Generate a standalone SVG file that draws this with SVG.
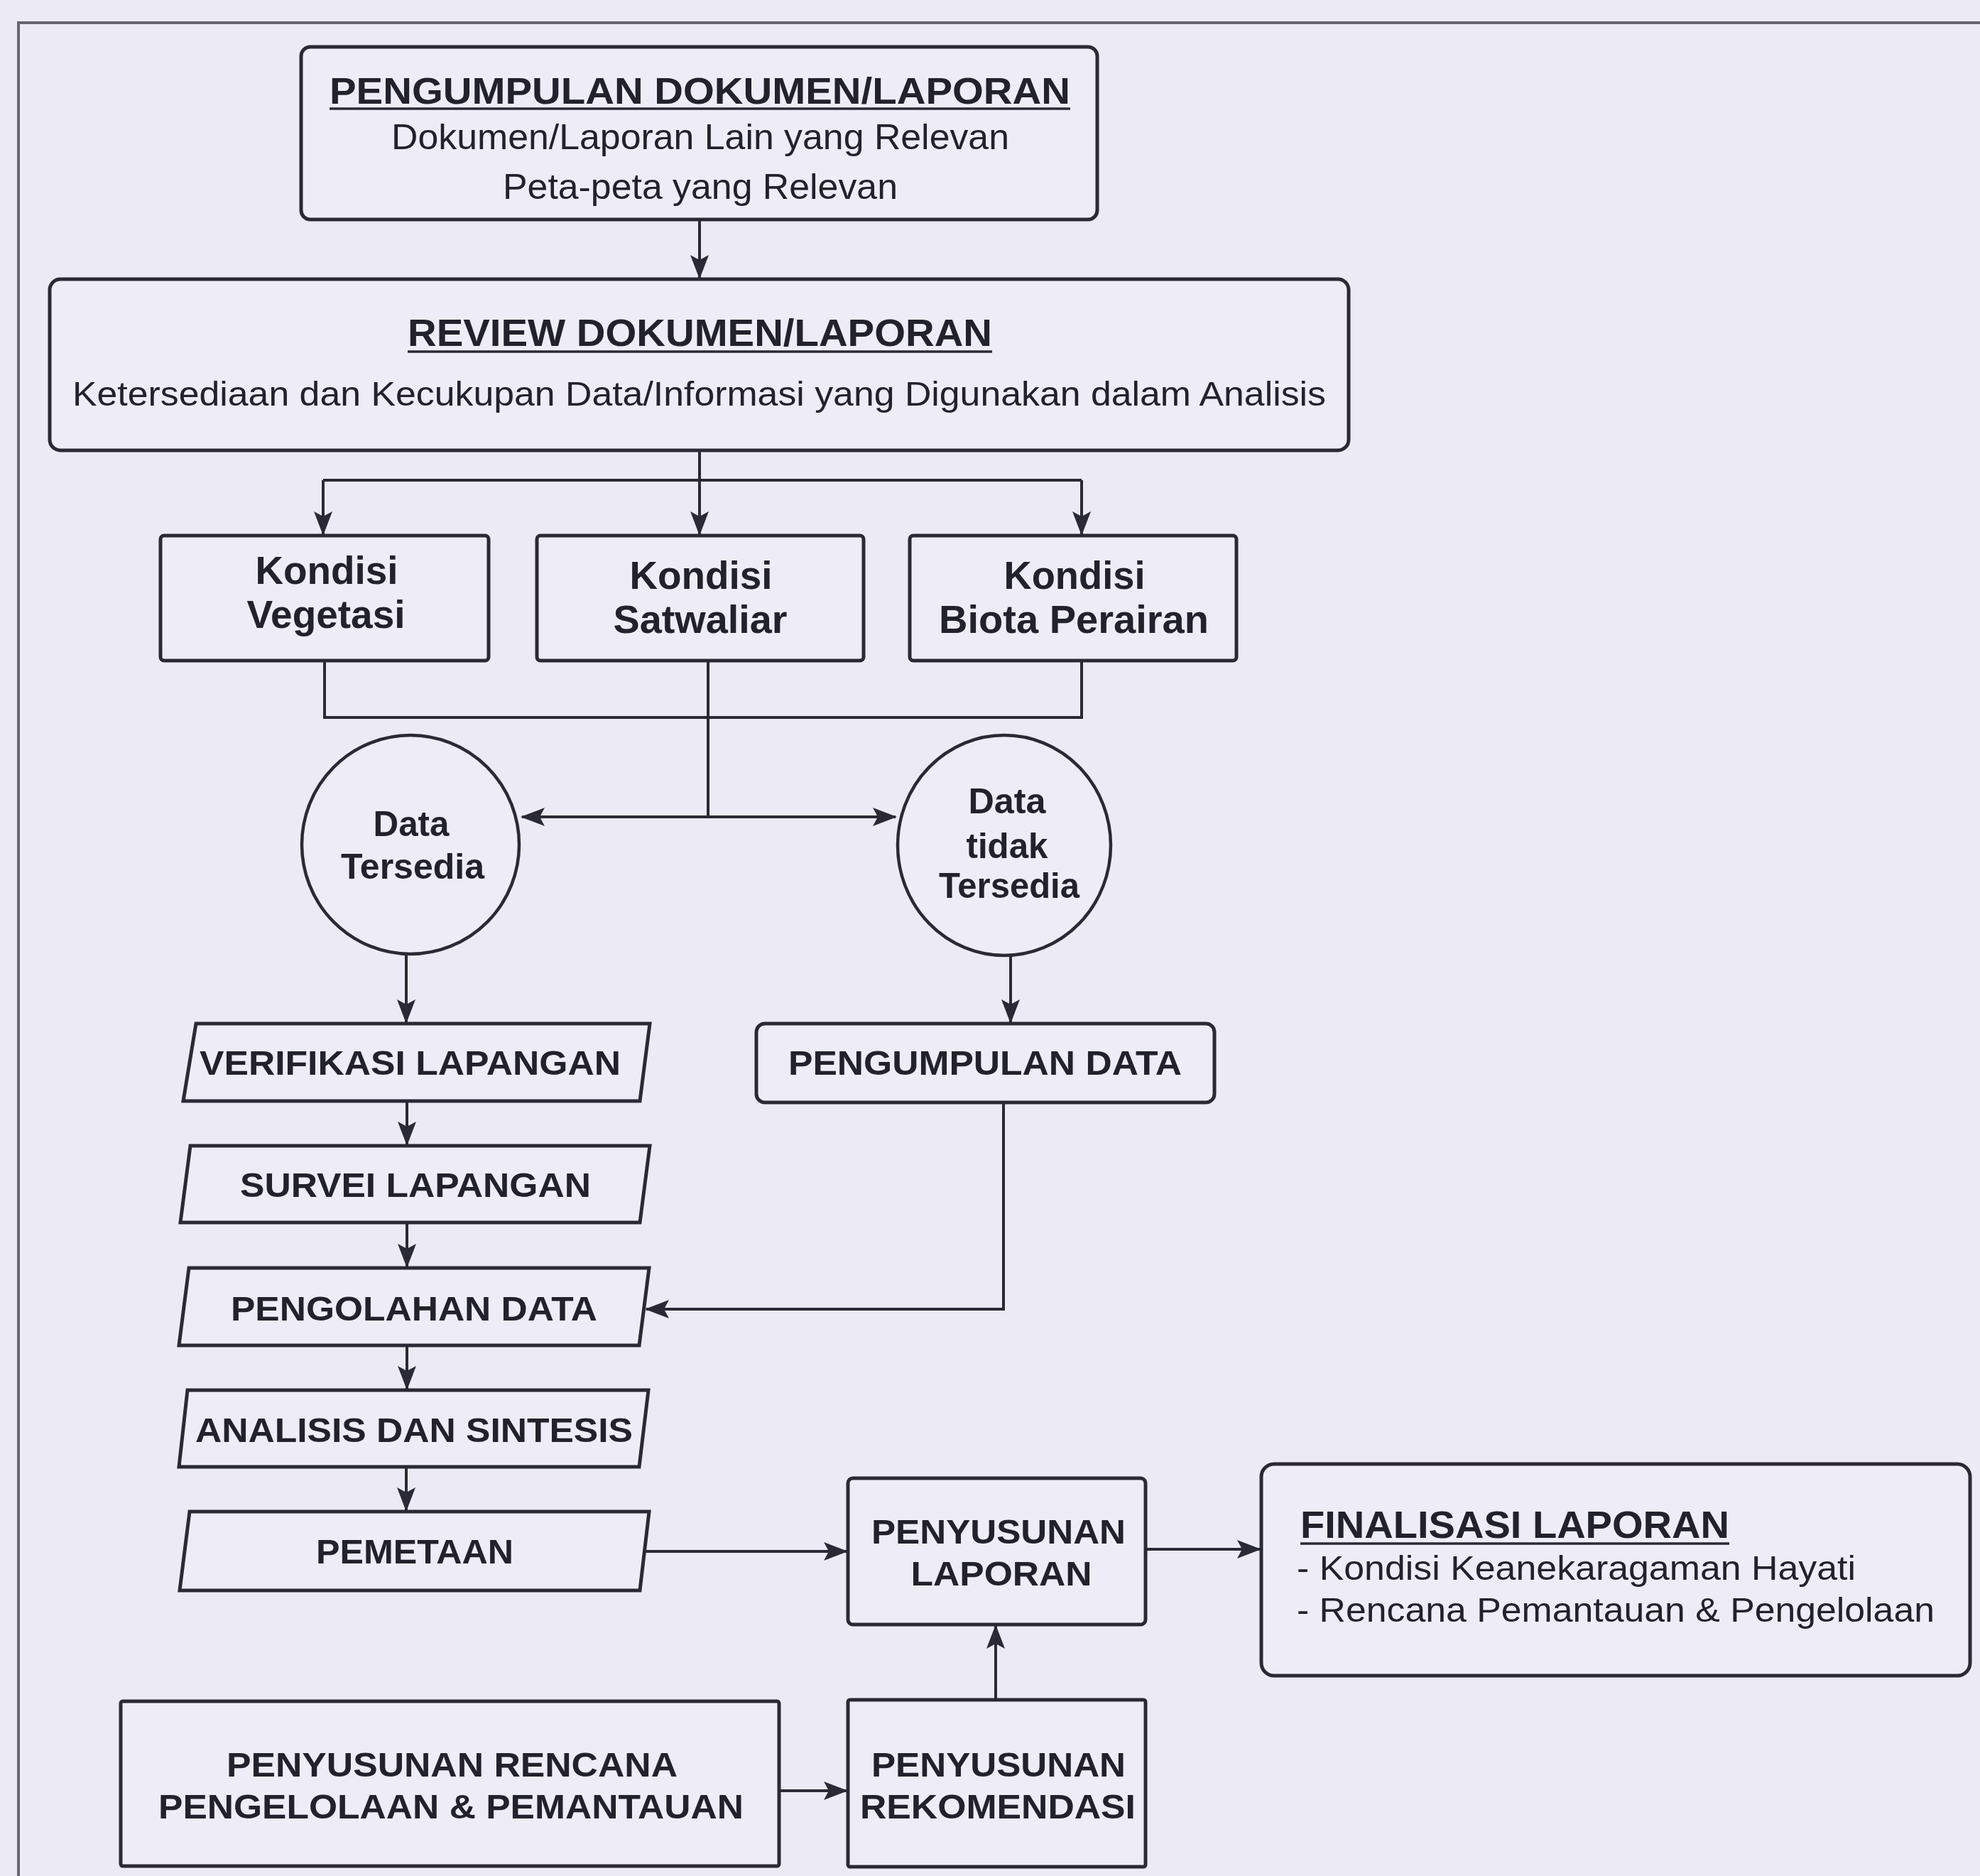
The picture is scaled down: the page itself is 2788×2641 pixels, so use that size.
<svg xmlns="http://www.w3.org/2000/svg" width="2788" height="2641" viewBox="0 0 2788 2641">
<defs>
<style>
.bg{fill:#ECEBF5}
.frame{fill:none;stroke:#66666e;stroke-width:4}
.box{fill:#EEEDF7;stroke:#2a2a36;stroke-width:5}
.ln{fill:none;stroke:#2a2a36;stroke-width:4}
.arr{fill:none;stroke:#2a2a36;stroke-width:4;marker-end:url(#ah)}
.ul{stroke:#2a2a36;stroke-width:3.5}
.t{font-family:"Liberation Sans",Arial,sans-serif;fill:#22222c;text-anchor:middle}
.b{font-weight:bold}
.l{text-anchor:start}
</style>
<marker id="ah" markerUnits="userSpaceOnUse" markerWidth="34" markerHeight="26" viewBox="0 0 34 26" refX="32" refY="13" orient="auto">
<path d="M0,0 L34,13 L0,26 L7,13 Z" fill="#2a2a36"/>
</marker>
</defs>
<rect class="bg" x="0" y="0" width="2788" height="2641"/>
<rect class="frame" x="26" y="32" width="2900" height="2800"/>

<g id="connectors">
<path class="arr" d="M985,310 L985,391"/>
<path class="ln" d="M985,636 L985,676 M455,676 L1523,676"/>
<path class="arr" d="M455,676 L455,752"/>
<path class="arr" d="M985,676 L985,752"/>
<path class="arr" d="M1523,676 L1523,752"/>
<path class="ln" d="M457,932 L457,1010 L1523,1010 L1523,932 M997,932 L997,1150"/>
<path class="arr" d="M997,1150 L735,1150"/>
<path class="arr" d="M997,1150 L1261,1150"/>
<path class="arr" d="M572,1343 L572,1439"/>
<path class="arr" d="M1423,1345 L1423,1439"/>
<path class="arr" d="M573,1552 L573,1611"/>
<path class="arr" d="M573,1723 L573,1783"/>
<path class="arr" d="M573,1896 L573,1955"/>
<path class="arr" d="M572,2067 L572,2126"/>
<path class="arr" d="M1413,1554 L1413,1843 L910,1843"/>
<path class="arr" d="M908,2184 L1192,2184"/>
<path class="arr" d="M1615,2181 L1774,2181"/>
<path class="arr" d="M1099,2521 L1192,2521"/>
<path class="arr" d="M1402,2391 L1402,2289"/>
</g>

<g id="n-pengumpulan-dokumen">
<rect class="box" x="424" y="66" width="1121" height="243" rx="13"/>
<text class="t b" x="985.5" y="146" font-size="52" textLength="1043" lengthAdjust="spacingAndGlyphs">PENGUMPULAN DOKUMEN/LAPORAN</text>
<line class="ul" x1="464" y1="153" x2="1507" y2="153"/>
<text class="t" x="986" y="210" font-size="50" textLength="870" lengthAdjust="spacingAndGlyphs">Dokumen/Laporan Lain yang Relevan</text>
<text class="t" x="986" y="280" font-size="50" textLength="556" lengthAdjust="spacingAndGlyphs">Peta-peta yang Relevan</text>
</g>

<g id="n-review">
<rect class="box" x="70" y="393" width="1829" height="241" rx="15"/>
<text class="t b" x="985.5" y="487" font-size="54" textLength="823" lengthAdjust="spacingAndGlyphs">REVIEW DOKUMEN/LAPORAN</text>
<line class="ul" x1="574" y1="495" x2="1397" y2="495"/>
<text class="t" x="984.5" y="571" font-size="49" textLength="1765" lengthAdjust="spacingAndGlyphs">Ketersediaan dan Kecukupan Data/Informasi yang Digunakan dalam Analisis</text>
</g>

<g id="n-vegetasi">
<rect class="box" x="226" y="754" width="462" height="176" rx="5"/>
<text class="t b" x="460" y="822" font-size="55" textLength="201" lengthAdjust="spacingAndGlyphs">Kondisi</text>
<text class="t b" x="459" y="884" font-size="55" textLength="223" lengthAdjust="spacingAndGlyphs">Vegetasi</text>
</g>

<g id="n-satwaliar">
<rect class="box" x="756" y="754" width="460" height="176" rx="5"/>
<text class="t b" x="987" y="829" font-size="55" textLength="201" lengthAdjust="spacingAndGlyphs">Kondisi</text>
<text class="t b" x="986" y="891" font-size="55" textLength="245" lengthAdjust="spacingAndGlyphs">Satwaliar</text>
</g>

<g id="n-biota">
<rect class="box" x="1281" y="754" width="460" height="176" rx="5"/>
<text class="t b" x="1513" y="829" font-size="55" textLength="199" lengthAdjust="spacingAndGlyphs">Kondisi</text>
<text class="t b" x="1512" y="891" font-size="55" textLength="380" lengthAdjust="spacingAndGlyphs">Biota Perairan</text>
</g>

<g id="n-data-tersedia">
<ellipse class="box" cx="578" cy="1189" rx="153" ry="154" style="stroke-width:4.5"/>
<text class="t b" x="579" y="1177" font-size="50" textLength="107" lengthAdjust="spacingAndGlyphs">Data</text>
<text class="t b" x="581" y="1237" font-size="50" textLength="202" lengthAdjust="spacingAndGlyphs">Tersedia</text>
</g>

<g id="n-data-tidak-tersedia">
<ellipse class="box" cx="1414" cy="1190" rx="150" ry="155" style="stroke-width:4.5"/>
<text class="t b" x="1418" y="1145" font-size="50" textLength="109" lengthAdjust="spacingAndGlyphs">Data</text>
<text class="t b" x="1418" y="1208" font-size="50" textLength="115" lengthAdjust="spacingAndGlyphs">tidak</text>
<text class="t b" x="1421" y="1264" font-size="50" textLength="198" lengthAdjust="spacingAndGlyphs">Tersedia</text>
</g>

<g id="n-verifikasi">
<polygon class="box" points="276,1441 915,1441 901,1550 258,1550"/>
<text class="t b" x="577.5" y="1513" font-size="49" textLength="593" lengthAdjust="spacingAndGlyphs">VERIFIKASI LAPANGAN</text>
</g>

<g id="n-survei">
<polygon class="box" points="268,1613 915,1613 901,1721 254,1721"/>
<text class="t b" x="585" y="1685" font-size="49" textLength="494" lengthAdjust="spacingAndGlyphs">SURVEI LAPANGAN</text>
</g>

<g id="n-pengolahan">
<polygon class="box" points="266,1785 914,1785 900,1894 252,1894"/>
<text class="t b" x="583" y="1859" font-size="49" textLength="516" lengthAdjust="spacingAndGlyphs">PENGOLAHAN DATA</text>
</g>

<g id="n-analisis">
<polygon class="box" points="264,1957 913,1957 900,2065 252,2065"/>
<text class="t b" x="583" y="2030" font-size="49" textLength="616" lengthAdjust="spacingAndGlyphs">ANALISIS DAN SINTESIS</text>
</g>

<g id="n-pemetaan">
<polygon class="box" points="267,2128 914,2128 901,2239 253,2239"/>
<text class="t b" x="584" y="2201" font-size="49" textLength="278" lengthAdjust="spacingAndGlyphs">PEMETAAN</text>
</g>

<g id="n-pengumpulan-data">
<rect class="box" x="1065" y="1441" width="645" height="111" rx="12"/>
<text class="t b" x="1387" y="1513" font-size="49" textLength="554" lengthAdjust="spacingAndGlyphs">PENGUMPULAN DATA</text>
</g>

<g id="n-penyusunan-laporan">
<rect class="box" x="1194" y="2081" width="419" height="206" rx="7"/>
<text class="t b" x="1406" y="2173" font-size="49" textLength="358" lengthAdjust="spacingAndGlyphs">PENYUSUNAN</text>
<text class="t b" x="1410" y="2232" font-size="49" textLength="255" lengthAdjust="spacingAndGlyphs">LAPORAN</text>
</g>

<g id="n-finalisasi">
<rect class="box" x="1776" y="2061" width="998" height="298" rx="18"/>
<text class="t b l" x="1831" y="2165" font-size="54" textLength="604" lengthAdjust="spacingAndGlyphs">FINALISASI LAPORAN</text>
<line class="ul" x1="1831" y1="2173" x2="2435" y2="2173"/>
<text class="t l" x="1826" y="2224" font-size="48" textLength="787" lengthAdjust="spacingAndGlyphs">- Kondisi Keanekaragaman Hayati</text>
<text class="t l" x="1826" y="2283" font-size="48" textLength="898" lengthAdjust="spacingAndGlyphs">- Rencana Pemantauan &amp; Pengelolaan</text>
</g>

<g id="n-rencana">
<rect class="box" x="170" y="2395" width="927" height="232" rx="3"/>
<text class="t b" x="636.5" y="2501" font-size="49" textLength="635" lengthAdjust="spacingAndGlyphs">PENYUSUNAN RENCANA</text>
<text class="t b" x="635" y="2560" font-size="49" textLength="824" lengthAdjust="spacingAndGlyphs">PENGELOLAAN &amp; PEMANTAUAN</text>
</g>

<g id="n-rekomendasi">
<rect class="box" x="1194" y="2393" width="419" height="235" rx="3"/>
<text class="t b" x="1406" y="2501" font-size="49" textLength="358" lengthAdjust="spacingAndGlyphs">PENYUSUNAN</text>
<text class="t b" x="1405" y="2560" font-size="49" textLength="388" lengthAdjust="spacingAndGlyphs">REKOMENDASI</text>
</g>
</svg>
